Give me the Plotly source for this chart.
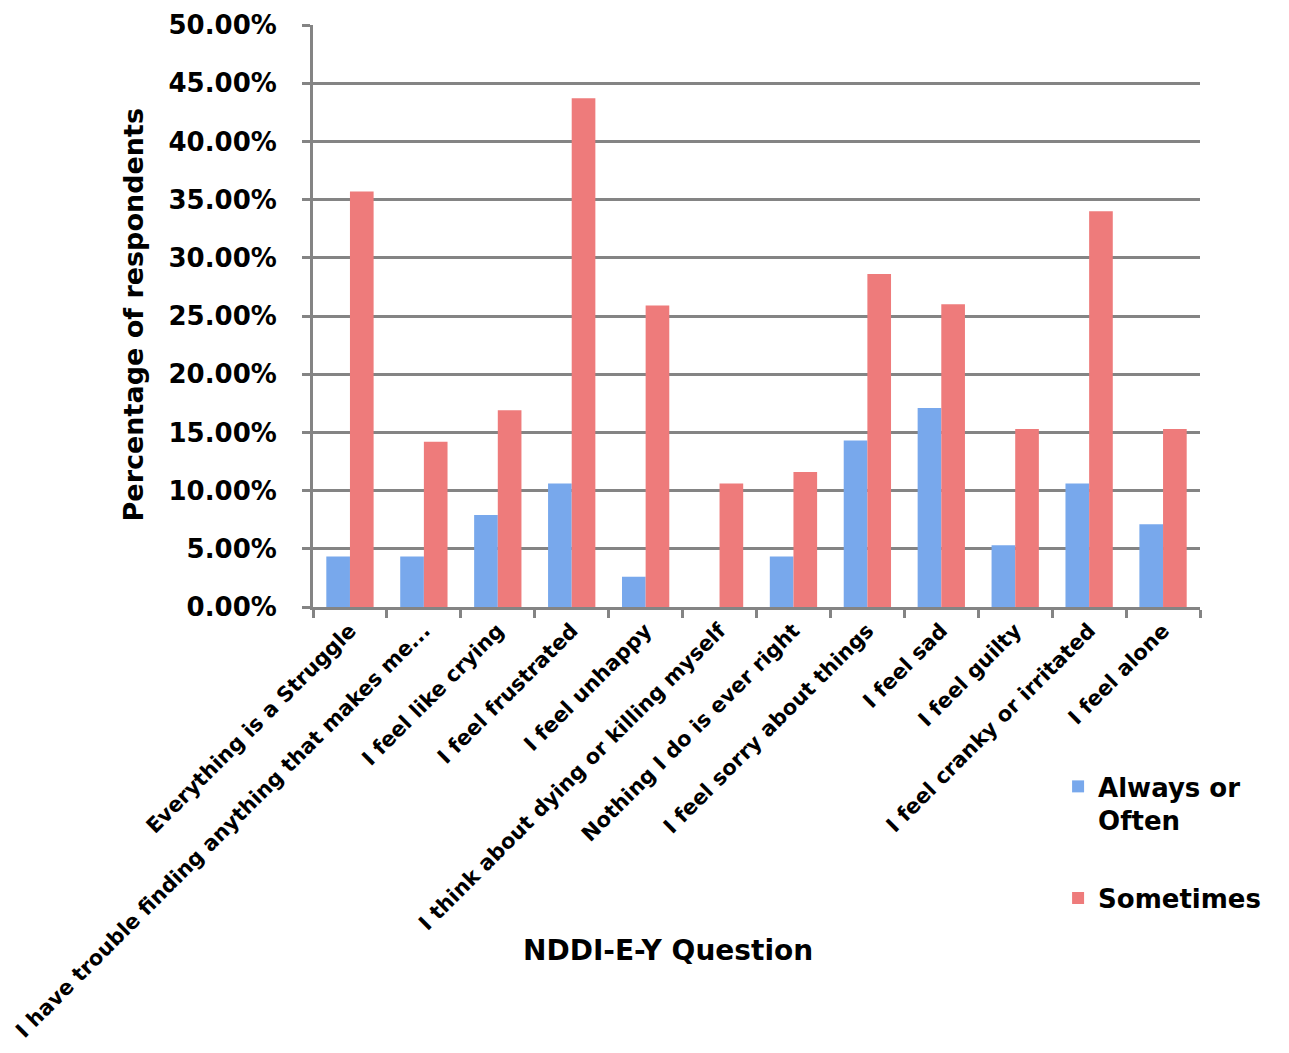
import plotly.graph_objects as go

categories = [
    "Everything is a Struggle",
    "I have trouble finding anything that makes me...",
    "I feel like crying",
    "I feel frustrated",
    "I feel unhappy",
    "I think about dying or killing myself",
    "Nothing I do is ever right",
    "I feel sorry about things",
    "I feel sad",
    "I feel guilty",
    "I feel cranky or irritated",
    "I feel alone",
]
always_often = [4.33, 4.33, 7.9, 10.6, 2.6, 0.0, 4.34, 14.3, 17.1, 5.3, 10.6, 7.1]
sometimes = [35.7, 14.2, 16.9, 43.7, 25.9, 10.6, 11.6, 28.6, 26.0, 15.3, 34.0, 15.3]
y_ticks = [0, 5, 10, 15, 20, 25, 30, 35, 40, 45, 50]
y_tick_labels = [f"{v:.2f}%" for v in y_ticks]

FONT = "DejaVu Sans"
GRID = "#848484"

fig = go.Figure()
fig.add_trace(go.Bar(x=categories, y=always_often, name="Always or<br>Often",
                     legendgroup="a",
                     marker=dict(color="#78a8ec", line=dict(width=0))))
fig.add_trace(go.Bar(x=categories, y=sometimes, name="Sometimes",
                     legendgroup="b",
                     marker=dict(color="#ee7b7b", line=dict(width=0))))

fig.update_layout(
    width=1289, height=1053,
    margin=dict(l=313, r=89, t=25, b=446),
    paper_bgcolor="white", plot_bgcolor="white",
    barmode="group", bargap=0.36, bargroupgap=0,
    font=dict(family=FONT, color="black"),
    showlegend=True,
    legend=dict(x=0.84, y=-0.268, xanchor="left", yanchor="top",
                font=dict(family=FONT, size=26, weight="bold"),
                valign="top", tracegroupgap=41, itemwidth=30,
                traceorder="grouped"),
)
fig.update_yaxes(
    range=[0, 50], tickvals=y_ticks, ticktext=y_tick_labels,
    showgrid=True, gridcolor=GRID, gridwidth=3,
    showline=True, linecolor=GRID, linewidth=3,
    ticks="outside", ticklen=8, tickcolor=GRID, tickwidth=3,
    ticklabelstandoff=20, automargin=False,
    tickfont=dict(family=FONT, size=26, weight="bold"),
    zeroline=False,
)
fig.update_xaxes(
    tickangle=-45, tickson="boundaries", automargin=False,
    showline=True, linecolor=GRID, linewidth=3,
    ticks="outside", ticklen=8, tickcolor=GRID, tickwidth=3,
    tickfont=dict(family=FONT, size=21, weight="bold"),
)
fig.add_annotation(text="Percentage of respondents", xref="paper", yref="paper",
                   x=-0.222, y=0.502, textangle=-90, showarrow=False,
                   font=dict(family=FONT, size=27, weight="bold"))
fig.add_annotation(text="NDDI-E-Y Question", xref="paper", yref="paper",
                   x=0.40, y=-0.622, showarrow=False,
                   font=dict(family=FONT, size=28, weight="bold"))

fig.write_html("out.html")
